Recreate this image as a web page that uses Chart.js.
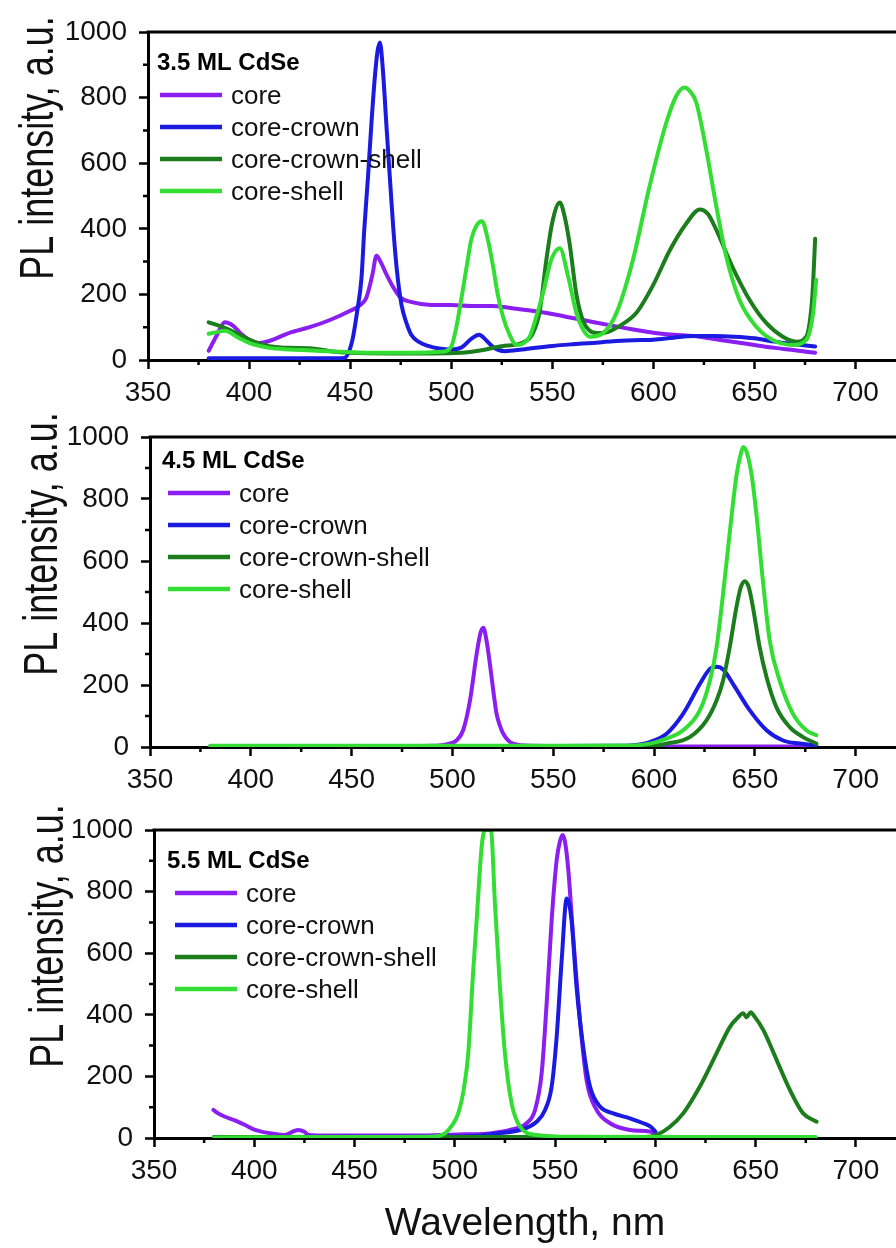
<!DOCTYPE html>
<html>
<head>
<meta charset="utf-8">
<title>PL spectra CdSe</title>
<script src="https://cdn.jsdelivr.net/npm/chart.js@4.4.0/dist/chart.umd.min.js"></script>
<style>
  html, body { margin: 0; padding: 0; background: #fff; }
  #wrap { position: relative; width: 896px; height: 1248px; overflow: hidden; }
  .panel { position: absolute; left: 0; width: 896px; }
</style>
</head>
<body>
<div id="wrap">
  <div class="panel" style="top:0;height:410px"><canvas id="p1"></canvas></div>
  <div class="panel" style="top:405px;height:392px"><canvas id="p2"></canvas></div>
  <div class="panel" style="top:797px;height:451px"><canvas id="p3"></canvas></div>
</div>
<script>
// series names and panel titles
const seriesNames = ['core', 'core-crown', 'core-crown-shell', 'core-shell'];
const panelTitles = ['3.5 ML CdSe', '4.5 ML CdSe', '5.5 ML CdSe'];
const yAxisTitle = 'PL intensity, a.u.';
const xAxisTitle = 'Wavelength, nm';

// tick labels
const xTickLabels = [350, 400, 450, 500, 550, 600, 650, 700];
const yTickLabels = [0, 200, 400, 600, 800, 1000];
const xMinorTicks = [375, 425, 475, 525, 575, 625, 675];
const yMinorTicks = [100, 300, 500, 700, 900];

// 3.5 ML
const core35Wl = [380,384,388,392,396,400,405,410,420,430,440,450,455,458,461,463,465,468,471,475,480,490,500,510,520,530,540,550,560,570,580,590,600,610,620,630,640,650,660,670,680];
const core35   = [28,75,115,105,80,62,52,58,83,100,122,150,168,190,260,318,300,260,225,190,177,168,168,165,165,158,150,140,128,116,104,93,83,77,73,64,55,46,37,30,22];
const crown35Wl = [380,400,420,440,447,451,453.5,455.6,457,458.8,460.5,462.2,463.5,464.7,466,468,469.7,471.3,473,475.4,478,480.3,484,488.5,494,500,505,510,513.8,517,521,526.5,535,550,560,570,580,590,600,610,620,630,640,650,660,670,680];
const crown35   = [5,5,5,5,6,58,150,250,400,556,720,862,940,968,900,709,550,404,280,168,110,76,55,43,35,32,38,65,77,62,38,27,32,43,48,52,57,60,62,68,73,73,71,66,56,48,41];
const ccs35Wl = [380,385,390,395,400,405,410,420,430,440,450,470,490,505,515,525,532,536,540,543.8,547,550,553.7,556,558.6,561.9,565.2,568.5,572,576,583.3,591.6,600,608,616,623,627,631,639,647.6,655.8,664,670.7,675.6,678,679,680];
const ccs35   = [115,105,93,78,62,50,42,37,36,27,22,20,20,22,30,42,47,55,77,150,303,420,480,440,353,200,119,89,82,83,104,144,230,333,414,459,445,398,285,183,113,71,56,71,150,234,370];
const shell35Wl = [380,384,388,395,400,410,420,440,460,480,495,500,502.5,504.9,507.5,509.9,512.5,515.2,518,520.7,523,525.6,529,532.2,535.5,538.8,542,545.4,549.5,553.7,557.8,561.9,565,568.5,575.1,581.7,589.9,598.1,606.4,611.3,615.4,618,621.2,626.1,631.1,636,642.6,650.8,659,668.9,675.6,679,680.5];
const shell35   = [80,85,89,67,52,37,32,27,22,22,25,41,100,183,280,367,410,423,370,285,200,132,75,46,50,71,130,204,306,341,255,143,95,71,82,143,306,530,724,805,831,820,785,642,469,316,183,102,61,46,61,143,245];

// 4.5 ML
const core45Wl = [380,420,460,490,498,502,505.3,508.7,512,514,515.3,517,518.6,520.3,521.9,523.5,525.2,530.1,540,560,600,640,680];
const core45   = [3,3,3,4,10,21,54,150,300,370,385,340,267,180,107,70,43,11,4,3,2,2,2];
const crown45Wl = [380,450,550,580,589.7,597.9,606.2,614.4,622.7,627.7,631,634.3,639.2,647.5,655.8,664,672.3,680.5];
const crown45   = [2,2,3,4,6,16,43,107,203,252,259,250,203,118,54,21,11,5];
const ccs45Wl = [380,450,550,598,606.2,617.7,626,631,634.2,637.5,640.8,643,645,647,649.1,652.4,655.8,660.7,667.3,673.9,680.5];
const ccs45   = [3,3,3,3,11,32,86,150,214,321,449,515,535,515,449,321,225,128,64,32,11];
const shell45Wl = [380,450,550,589.7,598,606.2,614.4,622.7,627.7,631,634.2,637.6,640.9,643,644.2,646,648.4,650.8,654,657.4,662.3,668.9,675.5,680.5];
const shell45   = [4,4,4,5,11,27,54,118,214,321,492,695,877,945,968,950,877,749,535,342,214,107,54,38];

// 5.5 ML
const core55Wl = [379.6,382,385.4,390,395.4,400.4,404,408.7,415.3,419,422,425,427,436.8,450,470,490,505,517.5,527.5,535.8,540,543.3,545.8,548.3,550.8,552.5,553.8,555,556.6,559,562.4,565.7,570.7,577.4,587.3,597.3,600];
const core55   = [91,80,69,58,42,26,20,15,10,20,26,20,10,8,8,8,9,12,15,26,48,91,210,437,708,903,965,984,960,870,654,383,188,91,48,26,21,15];
const crown55Wl = [380,450,507.8,521,532.5,540.8,545,548.3,550.8,553.3,555.8,558.2,560.7,564,567.4,572.4,579,587.3,594,598,600];
const crown55   = [3,4,6,15,26,53,91,167,329,578,778,708,491,296,167,102,80,64,48,35,21];
const ccs55Wl = [380,450,550,595,600.6,607,613.9,622.2,630.5,637.2,641,643.8,645.5,647.5,649.5,653.8,660.5,667.1,673.7,680.4];
const ccs55   = [3,3,3,3,10,35,80,167,275,361,390,405,392,408,394,351,253,156,80,53];
const shell55Wl = [380,450,490,495.1,498.5,501.7,504.5,506.7,509.2,510.9,513.4,515,518,520,522.5,525,528.3,532.5,540.8,560,620,680];
const shell55   = [2,3,5,15,40,80,160,275,545,708,946,1000,1000,762,491,275,113,37,10,4,3,3];

const colors = ['#8b1ef0', '#1a1ae0', '#1c7d1c', '#33dd33'];
const FONT = '"Liberation Sans", Arial, Helvetica, sans-serif';
Chart.defaults.font.family = FONT;

function points(wl, val) {
    return wl.map((x, i) => ({ x: x, y: val[i] }));
}

// frame top line, minor ticks, rotated y title and legend box
const panelDecor = {
    id: 'panelDecor',
    afterDraw(chart, args, o) {
        const ctx = chart.ctx;
        const a = chart.chartArea;
        const xs = chart.scales.x, ys = chart.scales.y;
        ctx.save();
        ctx.strokeStyle = '#000';
        ctx.lineWidth = 3;
        ctx.beginPath();
        ctx.moveTo(a.left - 1.5, a.top);
        ctx.lineTo(a.right, a.top);
        ctx.stroke();

        ctx.lineWidth = 2.5;
        ctx.beginPath();
        xMinorTicks.forEach(v => {
            const px = xs.getPixelForValue(v);
            ctx.moveTo(px, a.bottom);
            ctx.lineTo(px, a.bottom + 5);
        });
        yMinorTicks.forEach(v => {
            const py = ys.getPixelForValue(v);
            ctx.moveTo(a.left, py);
            ctx.lineTo(a.left - 5, py);
        });
        ctx.stroke();
        ctx.restore();

        // y title
        ctx.save();
        ctx.translate(a.left - o.titleGap, (a.top + a.bottom) / 2 - 48);
        ctx.rotate(-Math.PI / 2);
        ctx.scale(1, 1.35);
        ctx.fillStyle = '#111';
        ctx.font = '36px ' + FONT;
        ctx.textAlign = 'center';
        ctx.textBaseline = 'alphabetic';
        ctx.fillText(yAxisTitle, 0, 0);
        ctx.restore();

        // legend
        ctx.save();
        ctx.fillStyle = '#000';
        ctx.textAlign = 'left';
        ctx.textBaseline = 'middle';
        ctx.font = 'bold 24px ' + FONT;
        ctx.fillText(o.title, a.left + o.tx, a.top + o.ty);
        chart.data.datasets.forEach((ds, i) => {
            const y = a.top + o.ly + i * 32;
            ctx.strokeStyle = ds.borderColor;
            ctx.lineWidth = 4.5;
            ctx.beginPath();
            ctx.moveTo(a.left + o.lx, y);
            ctx.lineTo(a.left + o.lx + 62, y);
            ctx.stroke();
            ctx.fillStyle = '#111';
            ctx.font = '26px ' + FONT;
            ctx.fillText(ds.label, a.left + o.lx + 71, y + 2);
        });
        ctx.restore();
    }
};

function makePanel(id, title, sets, o) {
    const datasets = sets.map((s, i) => ({
        label: seriesNames[i],
        data: points(s[0], s[1]),
        borderColor: colors[i],
        borderWidth: 4,
        pointRadius: 0,
        cubicInterpolationMode: 'monotone',
        borderJoinStyle: 'round',
        borderCapStyle: 'round',
        fill: false,
        order: 4 - i
    }));
    return new Chart(document.getElementById(id), {
        type: 'line',
        data: { datasets: datasets },
        plugins: [panelDecor],
        options: {
            responsive: true,
            maintainAspectRatio: false,
            animation: false,
            layout: { padding: { top: o.top, left: 0, right: 0, bottom: 0 } },
            plugins: {
                legend: { display: false },
                tooltip: { enabled: false },
                panelDecor: { title: title, titleGap: o.titleGap, tx: o.tx, ty: o.ty, lx: o.lx, ly: o.ly }
            },
            scales: {
                x: {
                    type: 'linear',
                    min: 350,
                    max: 720,
                    afterFit: s => { s.height = o.xh; },
                    afterBuildTicks: s => { s.ticks = xTickLabels.map(v => ({ value: v })); },
                    ticks: {
                        color: '#111', font: { size: 28 }, padding: 7, maxRotation: 0, autoSkip: false,
                        callback: v => String(v)
                    },
                    grid: { drawOnChartArea: false, drawTicks: true, tickLength: 9, tickWidth: 2.5, tickColor: '#000' },
                    border: { display: true, color: '#000', width: 3 },
                    title: { display: o.showX, text: xAxisTitle, color: '#111', font: { size: 39 }, padding: 0 }
                },
                y: {
                    min: 0,
                    max: 1000,
                    afterFit: s => { s.width = o.yw; },
                    afterBuildTicks: s => { s.ticks = yTickLabels.map(v => ({ value: v })); },
                    ticks: {
                        color: '#111', font: { size: 28 }, padding: 12, autoSkip: false,
                        callback: v => String(v)
                    },
                    grid: { drawOnChartArea: false, drawTicks: true, tickLength: 9, tickWidth: 2.5, tickColor: '#000' },
                    border: { display: true, color: '#000', width: 3 }
                }
            }
        }
    });
}

makePanel('p1', panelTitles[0],
    [[core35Wl, core35], [crown35Wl, crown35], [ccs35Wl, ccs35], [shell35Wl, shell35]],
    { top: 32, xh: 50, yw: 148, showX: false, titleGap: 95, tx: 9, ty: 31, lx: 12, ly: 63 });

makePanel('p2', panelTitles[1],
    [[core45Wl, core45], [crown45Wl, crown45], [ccs45Wl, ccs45], [shell45Wl, shell45]],
    { top: 32, xh: 50, yw: 150, showX: false, titleGap: 93, tx: 12, ty: 24, lx: 18, ly: 56 });

makePanel('p3', panelTitles[2],
    [[core55Wl, core55], [crown55Wl, crown55], [ccs55Wl, ccs55], [shell55Wl, shell55]],
    { top: 33, xh: 110, yw: 154, showX: true, titleGap: 91, tx: 13, ty: 31, lx: 21, ly: 63 });
</script>
</body>
</html>
